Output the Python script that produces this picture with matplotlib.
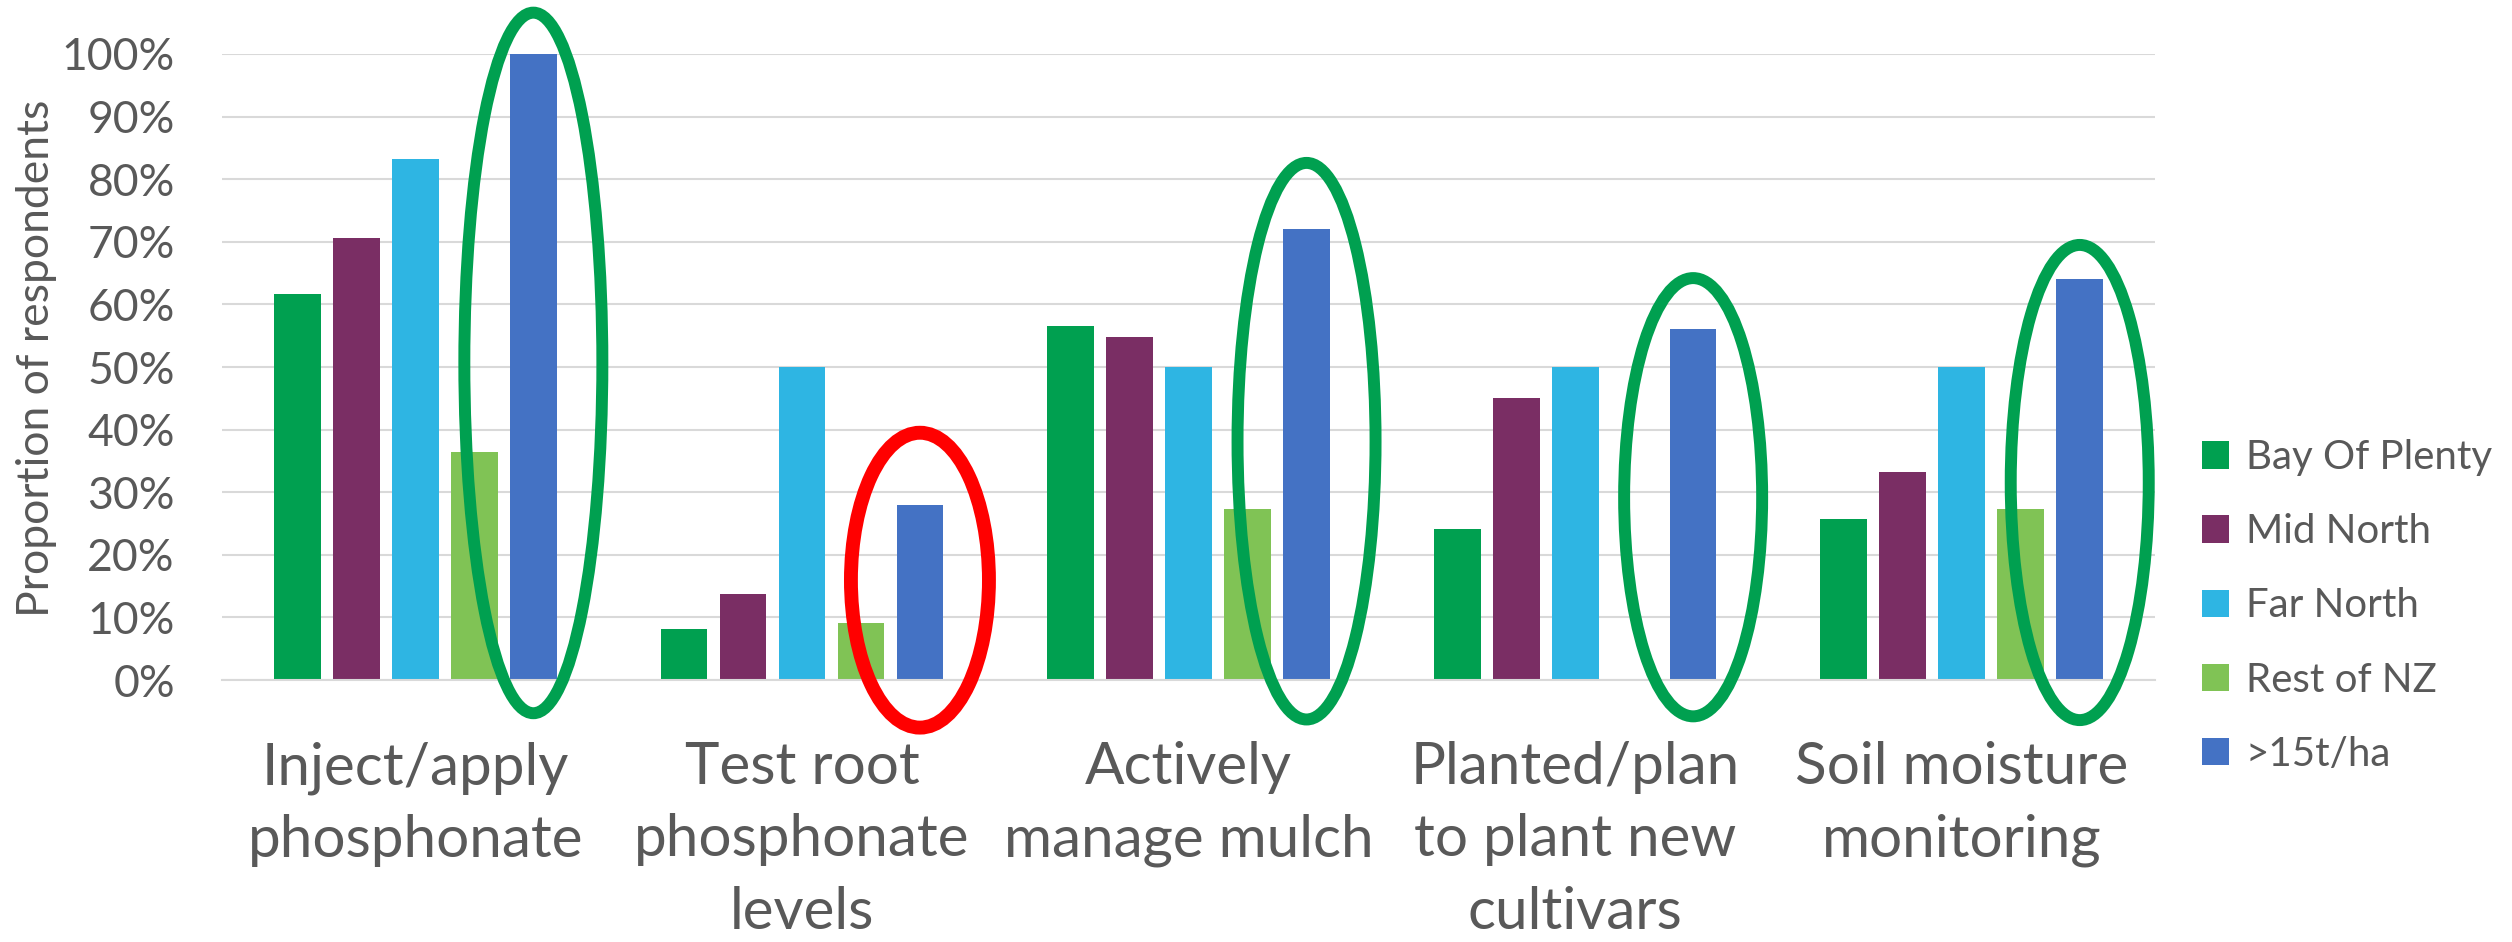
import numpy as np
import matplotlib
matplotlib.use("Agg")
import matplotlib.pyplot as plt
from matplotlib.patches import Ellipse
from matplotlib.ticker import PercentFormatter

categories = ["Inject/apply\nphosphonate", "Test root\nphosphonate\nlevels", "Actively\nmanage mulch",
              "Planted/plan\nto plant new\ncultivars", "Soil moisture\nmonitoring"]
series_names = ["Bay Of Plenty", "Mid North", "Far North", "Rest of NZ", ">15t/ha"]
bay_of_plenty = [61.6, 8.2, 56.5, 24.2, 25.7]
mid_north = [70.6, 13.8, 54.8, 45.0, 33.3]
far_north = [83.3, 50.0, 50.0, 50.0, 50.0]
rest_of_nz = [36.4, 9.1, 27.3, 0.0, 27.3]
over_15t = [100.0, 28.0, 72.0, 56.0, 64.0]
colours = ["#00A050", "#7A2E64", "#2EB5E3", "#80C355", "#4472C4"]

# highlight rings around the >15t/ha bars (top / bottom in % units)
ring_top = [106.6, 39.5, 82.6, 64.2, 69.5]
ring_bottom = [-5.3, -7.6, -6.3, -5.8, -6.4]
ring_colours = ["#00A050", "#FF0000", "#00A050", "#00A050", "#00A050"]

plt.rcParams["font.family"] = ["Lato", "DejaVu Sans"]
grey_text = "#595959"

fig = plt.figure(figsize=(25.12, 9.42), dpi=100)
ax = fig.add_axes([0.0884, 0.2781, 0.7695, 0.6646])

series = [bay_of_plenty, mid_north, far_north, rest_of_nz, over_15t]
x = np.arange(len(categories))
step = 0.1526
width = 0.1208
for i, (name, vals, col) in enumerate(zip(series_names, series, colours)):
    ax.bar(x + (i - 2) * step, vals, width, color=col, label=name, zorder=2)

for gi, (top, bot, col) in enumerate(zip(ring_top, ring_bottom, ring_colours)):
    lw = 10 if col == "#FF0000" else 8.6
    ax.add_patch(Ellipse((x[gi] + 2 * step, (top + bot) / 2), 0.357, top - bot,
                         fill=False, edgecolor=col, linewidth=lw, clip_on=False, zorder=3))

ax.set_xlim(-0.5, len(categories) - 0.5)
ax.set_ylim(0, 100)
ax.set_yticks(np.arange(0, 101, 10))
ax.yaxis.set_major_formatter(PercentFormatter(100, decimals=0))
ax.grid(axis="y", color="#D9D9D9", linewidth=1.5, zorder=0)
ax.set_axisbelow(True)
for s in ["top", "right", "left"]:
    ax.spines[s].set_visible(False)
ax.spines["bottom"].set_color("#D9D9D9")
ax.spines["bottom"].set_linewidth(1.5)
ax.tick_params(axis="y", length=0, pad=34, labelsize=32, labelcolor=grey_text)
ax.tick_params(axis="x", length=0, pad=44, labelsize=42, labelcolor=grey_text)
ax.set_xticks(x)
ax.set_xticklabels(categories, linespacing=1.45)

fig.text(37 / 2512, 0.62, "Proportion of respondents", rotation=90, ha="center", va="center",
         fontsize=32, color=grey_text)

fig.legend(loc="center left", bbox_to_anchor=(0.8766, 0.3567), frameon=False, fontsize=29,
           handlelength=0.68, handleheight=0.68, handletextpad=0.4, labelspacing=0.92,
           borderpad=0, borderaxespad=0, labelcolor=grey_text)

fig.savefig("out.png", dpi=100)
